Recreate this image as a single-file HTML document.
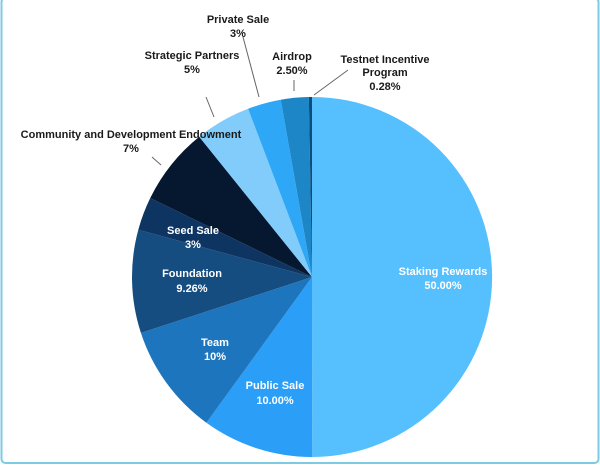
<!DOCTYPE html>
<html><head><style>
html,body{margin:0;padding:0;background:#fff;}
svg{display:block;}
text{font-family:"Liberation Sans",sans-serif;font-weight:bold;font-size:11px;text-anchor:middle;}
.w{fill:#fff;} .d{fill:#1a1a1a;}
</style></head><body>
<svg id="s" width="600" height="465" viewBox="0 0 600 465">
<rect x="1.5" y="-2" width="597" height="465" rx="4" fill="#fff" stroke="#7ccbe3" stroke-width="2"/>
<g id="pie"></g>
<g stroke="#666" stroke-width="1" fill="none">
<line x1="152" y1="157" x2="161" y2="165"/>
<line x1="206" y1="97" x2="214" y2="117"/>
<line x1="243" y1="37" x2="259" y2="97"/>
<line x1="294" y1="80" x2="294" y2="91"/>
<line x1="314" y1="95" x2="348" y2="70"/>
</g>
<text class="w" x="443" y="275">Staking Rewards</text><text class="w" x="443" y="289">50.00%</text>
<text class="w" x="275" y="389">Public Sale</text><text class="w" x="275" y="404">10.00%</text>
<text class="w" x="215" y="346">Team</text><text class="w" x="215" y="360">10%</text>
<text class="w" x="192" y="277">Foundation</text><text class="w" x="192" y="292">9.26%</text>
<text class="w" x="193" y="234">Seed Sale</text><text class="w" x="193" y="248">3%</text>
<text class="d" x="131" y="138">Community and Development Endowment</text><text class="d" x="131" y="152">7%</text>
<text class="d" x="192" y="59">Strategic Partners</text><text class="d" x="192" y="73">5%</text>
<text class="d" x="238" y="23">Private Sale</text><text class="d" x="238" y="37">3%</text>
<text class="d" x="292" y="60">Airdrop</text><text class="d" x="292" y="74">2.50%</text>
<text class="d" x="385" y="63">Testnet Incentive</text><text class="d" x="385" y="76">Program</text><text class="d" x="385" y="90">0.28%</text>
</svg>
<script>
var cx=312,cy=277,r=180;
var d=[[50,"#56bffd"],[10,"#2b9ef8"],[10,"#1d75bd"],[9.26,"#154d80"],[3,"#0e3461"],[7,"#06182f"],[5,"#81ccfb"],[3,"#2ea7f7"],[2.5,"#1c86c6"],[0.28,"#0e4c7d"]];
var g=document.getElementById("pie"),a=0,tot=100.04,h="";
function p(t){var q=t*Math.PI/180;return (cx+r*Math.sin(q)).toFixed(2)+" "+(cy-r*Math.cos(q)).toFixed(2);}
d.forEach(function(s){var b=a+s[0]/tot*360;h+='<path d="M'+cx+' '+cy+' L'+p(a)+' A'+r+' '+r+' 0 '+((b-a)>180?1:0)+' 1 '+p(b)+' Z" fill="'+s[1]+'"/>';a=b;});
g.innerHTML=h;
</script>
</body></html>
